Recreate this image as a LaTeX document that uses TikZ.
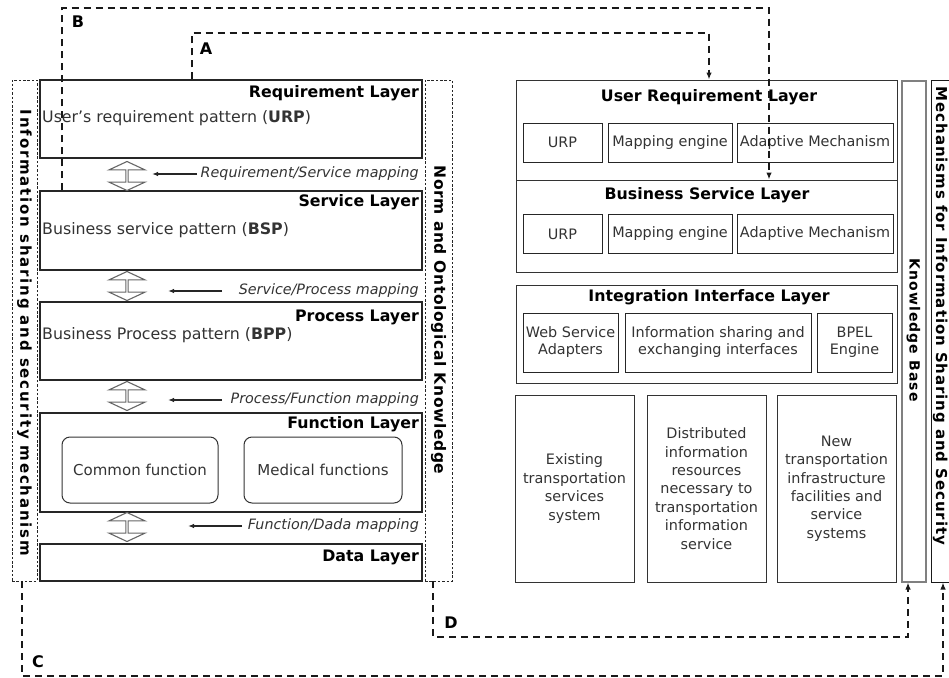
\documentclass[tikz,border=0pt]{standalone}
\usepackage{fontspec}
\setmainfont{DejaVu Sans}
\newfontfamily\widefont[LetterSpace=12]{DejaVu Sans}
\newfontfamily\normfont[LetterSpace=4]{DejaVu Sans}
\newfontfamily\kbfont[LetterSpace=8]{DejaVu Sans}
\newfontfamily\mechfont[LetterSpace=6]{DejaVu Sans}
\usetikzlibrary{arrows, arrows.meta}
\usetikzlibrary{positioning}
\usetikzlibrary{calc}
\usetikzlibrary{shapes.arrows}

\begin{document}
\begin{tikzpicture}[x=1pt,y=1pt,yscale=-1,xscale=1,
	layer/.style={draw=black!85, line width=1.1pt, minimum width=382pt, inner sep=0pt},
	strip/.style={draw=black!85, dash pattern=on 2.5pt off 1.8pt, line width=0.8pt, inner sep=0pt},
	title/.style={font=\bfseries\fontsize{15.8}{18}\selectfont, inner sep=0pt},
	pattern/.style={font=\fontsize{15.8}{18}\selectfont, text=black!80, inner sep=0pt},
	maplabel/.style={font=\itshape\fontsize{14.3}{17}\selectfont, text=black!80, inner sep=0pt},
	maparrow/.style={-{Latex[length=6pt,width=4.5pt]}, line width=1.3pt, black!85},
	dblarrow/.style={double arrow, shape border rotate=90, draw=black!60, line width=1.1pt,
		minimum width=36pt, double arrow head extend=8.5pt, double arrow tip angle=130,
		minimum height=29pt, inner sep=0pt},
	funbox/.style={draw=black!80, rounded corners=8pt, line width=1pt, minimum height=66pt,
		font=\fontsize{15}{18}\selectfont, text=black!80},
	frame/.style={draw=black!80, line width=1pt, minimum width=381pt, inner sep=0pt},
	cell/.style={draw=black!85, line width=1pt, inner sep=0pt, align=center,
		font=\fontsize{14.4}{17}\selectfont, text=black!80},
	tall/.style={draw=black!80, line width=1pt, minimum width=119pt, minimum height=187pt,
		inner sep=0pt, align=center, font=\fontsize{14.4}{18.4}\selectfont, text=black!80},
	link/.style={dash pattern=on 7pt off 5pt, line width=1.8pt, black!90},
	tip/.style={-{Latex[length=7pt,width=5.5pt]}},
	letter/.style={font=\bfseries\fontsize{16}{18}\selectfont, inner sep=0pt}
	]
	\useasboundingbox (0,0) rectangle (949,677);

	% left: layered patterns
	\node[strip, minimum width=25pt, minimum height=501pt] (infoS) at (24.5,330.5) {};
	\node[font=\widefont\bfseries\fontsize{15}{18}\selectfont, inner sep=0pt, rotate=-90] at (24.5,333) {Information sharing and security mechanism};
	\node[strip, minimum width=27pt, minimum height=501pt] (normK) at (438.5,330.5) {};
	\node[font=\normfont\bfseries\fontsize{15.5}{18}\selectfont, inner sep=0pt, rotate=-90] at (438.5,320) {Norm and Ontological Knowledge};

	\node[layer, minimum height=78pt] (reqL) at (231,119) {};
	\node[layer, minimum height=79pt] (srvL) at (231,230.5) {};
	\node[layer, minimum height=78pt] (prcL) at (231,341) {};
	\node[layer, minimum height=99pt] (funL) at (231,462.5) {};
	\node[layer, minimum height=37pt] (datL) at (231,562.5) {};

	\node[title, anchor=east] at (419,93) {Requirement Layer};
	\node[title, anchor=east] at (419,202) {Service Layer};
	\node[title, anchor=east] at (419,317) {Process Layer};
	\node[title, anchor=east] at (419,424) {Function Layer};
	\node[title, anchor=east] at (419,557) {Data Layer};

	\node[pattern, anchor=west] (urp) at (42,118) {User's requirement pattern (\textbf{URP})};
	\node[pattern, anchor=west] (bsp) at (42,230) {Business service pattern (\textbf{BSP})};
	\node[pattern, anchor=west] (bpp) at (42,335) {Business Process pattern (\textbf{BPP})};

	\node[funbox, minimum width=156pt] (comF) at (140,470) {Common function};
	\node[funbox, minimum width=158pt] (medF) at (323,470) {Medical functions};

	% mappings between layers
	\node[dblarrow] (dA) at (127,176) {};
	\node[dblarrow] (dB) at (127,286) {};
	\node[dblarrow] (dC) at (127,396) {};
	\node[dblarrow] (dD) at (127,527) {};

	\node[maplabel, anchor=east] (mA) at (419,174) {Requirement/Service mapping};
	\node[maplabel, anchor=east] (mB) at (419,291) {Service/Process mapping};
	\node[maplabel, anchor=east] (mC) at (419,400) {Process/Function mapping};
	\node[maplabel, anchor=east] (mD) at (419,526) {Function/Dada mapping};

	\coordinate (sA) at (197,174);
	\coordinate (sB) at (222,291);
	\coordinate (sC) at (222,400);
	\coordinate (sD) at (242,526);
	\coordinate (tA) at (152,174);
	\coordinate (tB) at (168,291);
	\coordinate (tC) at (168,400);
	\coordinate (tD) at (188,526);
	\draw[maparrow] (sA) -- (tA);
	\draw[maparrow] (sB) -- (tB);
	\draw[maparrow] (sC) -- (tC);
	\draw[maparrow] (sD) -- (tD);

	% right: platform layers
	\node[frame, minimum height=100pt] (urL) at (706.5,130) {};
	\node[frame, minimum height=92pt] (bsL) at (706.5,226) {};
	\node[title] at (709,97) {User Requirement Layer};
	\node[title] at (707,195) {Business Service Layer};

	\node[cell, minimum width=79pt, minimum height=39pt] (urpA) at (562.5,142.5) {URP};
	\node[cell, minimum width=124pt, minimum height=39pt] (mapA) at (670,142.5) {Mapping engine};
	\node[cell, minimum width=156pt, minimum height=39pt] (adpA) at (815,142.5) {Adaptive Mechanism};
	\node[cell, minimum width=79pt, minimum height=39pt] (urpB) at (562.5,234) {URP};
	\node[cell, minimum width=124pt, minimum height=39pt] (mapB) at (670,234) {Mapping engine};
	\node[cell, minimum width=156pt, minimum height=39pt] (adpB) at (815,234) {Adaptive Mechanism};

	\node[frame, minimum height=98pt] (iiL) at (706.5,334) {};
	\node[title] at (709,297) {Integration Interface Layer};
	\node[cell, minimum width=95pt, minimum height=59pt] (wsa) at (570.5,342.5) {Web Service\\Adapters};
	\node[cell, minimum width=186pt, minimum height=59pt] (ise) at (718,342.5) {Information sharing and\\exchanging interfaces};
	\node[cell, minimum width=75pt, minimum height=59pt] (bpel) at (854.5,342.5) {BPEL\\Engine};

	\node[tall] (exS) at (574.5,488.5) {Existing\\transportation\\services\\system};
	\node[tall] (diS) at (706.5,488.5) {Distributed\\information\\resources\\necessary to\\transportation\\information\\service};
	\node[tall] (nwS) at (836.5,488.5) {New\\transportation\\infrastructure\\facilities and\\service\\systems};

	\node[draw=black!50, line width=2pt, minimum width=24pt, minimum height=501pt, inner sep=0pt] (kb) at (913.5,331) {};
	\node[font=\kbfont\bfseries\fontsize{14}{16}\selectfont, inner sep=0pt, rotate=-90] at (913.5,330) {Knowledge Base};
	\node[draw=black!90, line width=1pt, minimum width=30pt, minimum height=502pt, inner sep=0pt] (ms) at (946,331) {};
	\node[font=\mechfont\bfseries\fontsize{15}{18}\selectfont, inner sep=0pt, rotate=-90, anchor=base] at (936,316) {Mechanisms for Information Sharing and Security};

	% feedback links
	\coordinate (a1) at (192,33);
	\coordinate (a2) at (709,33);
	\draw[link, tip] (reqL.north -| a1) -- (a1) -- (a2) -- (urL.north -| a2);
	\node[letter] at (206,49) {A};

	\coordinate (b1) at (62,8);
	\coordinate (b2) at (769,8);
	\draw[link, tip] (srvL.north -| b1) -- (b1) -- (b2) -- (bsL.north -| b2);
	\node[letter] at (78,22) {B};

	\coordinate (c1) at (22,676);
	\coordinate (c2) at (943,676);
	\draw[link, tip] (infoS.south -| c1) -- (c1) -- (c2) -- (ms.south -| c2);
	\node[letter] at (38,662) {C};

	\coordinate (d1) at (433,637);
	\coordinate (d2) at (908,637);
	\draw[link, tip] (normK.south -| d1) -- (d1) -- (d2) -- (kb.south -| d2);
	\node[letter] at (451,623) {D};

\end{tikzpicture}
\end{document}
